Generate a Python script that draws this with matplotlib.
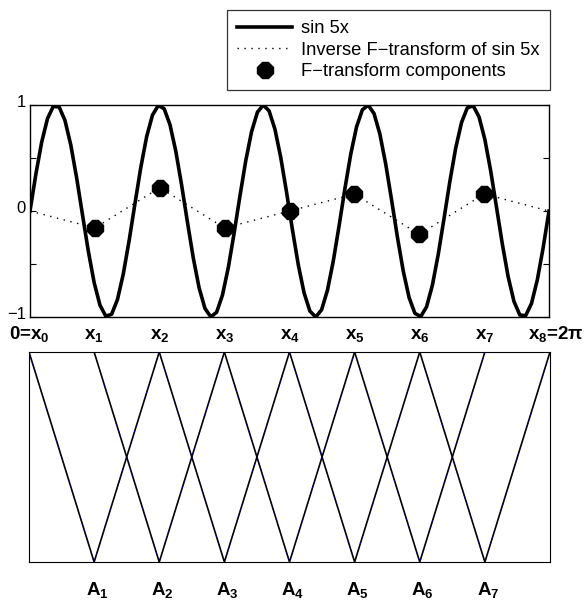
import numpy as np
import matplotlib
matplotlib.use("Agg")
import matplotlib.pyplot as plt
import matplotlib.transforms as mtransforms

plt.rcParams['font.family'] = ['Liberation Sans', 'DejaVu Sans']
plt.rcParams['mathtext.fontset'] = 'custom'
plt.rcParams['mathtext.rm'] = 'Liberation Sans'
plt.rcParams['mathtext.bf'] = 'Liberation Sans:bold'

# nodes 0 = x0 < x1 < ... < x8 = 2pi
n_nodes = 9
node_pre = ['0=', '', '', '', '', '', '', '', '']
node_sub = ['0', '1', '2', '3', '4', '5', '6', '7', '8']
node_post = ['', '', '', '', '', '', '', '', '=2π']
basis_sub = ['1', '2', '3', '4', '5', '6', '7']

# F-transform components (at x1..x7)
components = [-0.16, 0.22, -0.16, 0.0, 0.16, -0.22, 0.16]
# inverse F-transform values at x0..x8
inverse_vals = [0.0, -0.16, 0.22, -0.16, 0.0, 0.16, -0.22, 0.16, 0.0]

nodes = np.linspace(0, 2 * np.pi, n_nodes)
xs = np.linspace(0, 2 * np.pi, 90)
sin5 = np.sin(5 * xs)

fig = plt.figure(figsize=(5.87, 6.06), dpi=100)

# ---- top panel
ax1 = fig.add_axes([30 / 587, 1 - 317 / 606, 519 / 587, 212 / 606])
l1, = ax1.plot(xs, sin5, color='k', lw=2.6, label='sin 5x')
l2, = ax1.plot(nodes, inverse_vals, color='k', lw=1.0, ls=(0, (1, 4)),
               label='Inverse F\u2212transform of sin 5x')
l3, = ax1.plot(nodes[1:-1], components, '8', color='k', ms=12,
               label='F\u2212transform components')
ax1.set_xlim(0, 2 * np.pi)
ax1.set_ylim(-1, 1)
ax1.set_xticks([])
ax1.set_yticks([-1, -0.5, 0, 0.5, 1])
ax1.set_yticklabels(['\u22121', '', '0', '', '1'], fontsize=12)
ax1.tick_params(axis='y', direction='in', right=True, length=4, pad=3)
shift_up = mtransforms.ScaledTranslation(0, 4 / 100, fig.dpi_scale_trans)
for lab in ax1.get_yticklabels():
    lab.set_transform(lab.get_transform() + shift_up)
for s in ax1.spines.values():
    s.set_linewidth(1.0)

leg = fig.legend(handles=[l1, l2, l3], loc='upper left',
                 bbox_to_anchor=(227 / 587, 1 - 10 / 606),
                 fontsize=13.2, frameon=True, fancybox=False, edgecolor='k',
                 handlelength=3.0, handletextpad=0.5, borderpad=0.55,
                 labelspacing=0.25, borderaxespad=0)
leg.get_frame().set_linewidth(0.9)

# ---- bottom panel: triangular basis functions
ax2 = fig.add_axes([29 / 587, 1 - 562 / 606, 521 / 587, 210 / 606])
for k in range(1, n_nodes - 1):
    tx = [nodes[k - 1], nodes[k], nodes[k + 1]]
    ty = [0, 1, 0]
    ax2.plot(tx, ty, color='k', lw=1.2)
    ax2.plot(tx, ty, color='b', lw=0.6, ls=(0, (1, 6)))
ax2.plot([nodes[0], nodes[-1]], [0, 0], color='b', lw=0.6, ls=(0, (1, 6)))
ax2.set_xlim(0, 2 * np.pi)
ax2.set_ylim(1, 0)
ax2.set_xticks([])
ax2.set_yticks([])


def bold_sub(base, sub, pre='', post=''):
    return pre + r'$\mathbf{' + base + r'}_{\mathbf{' + sub + r'}}$' + post


for k in range(n_nodes):
    xd = ax2.transData.transform((nodes[k], 0))[0] / fig.bbox.width
    ha = 'center'
    if k == n_nodes - 1:
        ha = 'left'
        xd -= 22 / 587
    fig.text(xd, 1 - 340 / 606, bold_sub('x', node_sub[k], node_pre[k], node_post[k]),
             fontsize=13.5, fontweight='bold', ha=ha, va='baseline')

for k in range(1, n_nodes - 1):
    xd = ax2.transData.transform((nodes[k], 0))[0] / fig.bbox.width
    fig.text(xd + 3 / 587, 1 - 596 / 606, bold_sub('A', basis_sub[k - 1]),
             fontsize=13.5, fontweight='bold', ha='center', va='baseline')

fig.savefig('out.png', dpi=100)
